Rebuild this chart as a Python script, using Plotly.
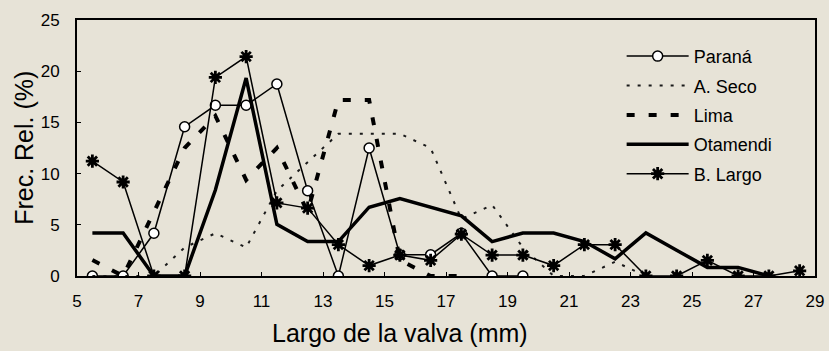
import plotly.graph_objects as go

# x positions (class midpoints, mm)
x_all = [5.5, 6.5, 7.5, 8.5, 9.5, 10.5, 11.5, 12.5, 13.5, 14.5, 15.5, 16.5,
         17.5, 18.5, 19.5, 20.5, 21.5, 22.5, 23.5, 24.5, 25.5, 26.5, 27.5, 28.5]

parana = [0, 0, 4.17, 14.58, 16.67, 16.67, 18.75, 8.33, 0, 12.5, 2.08, 2.08,
          4.17, 0, 0]
a_seco = [0, 0, 0, 2.78, 4.17, 2.78, 8.33, 11.11, 13.89, 13.89, 13.89, 12.5,
          5.56, 6.94, 2.78, 0, 0, 1.39, 0]
lima = [1.56, 0, 6.25, 12.5, 15.63, 9.38, 12.5, 6.25, 17.19, 17.19, 1.56, 0, 0]
otamendi = [4.2, 4.2, 0, 0, 8.4, 19.33, 5.04, 3.36, 3.36, 6.72, 7.56, 6.72,
            5.88, 3.36, 4.2, 4.2, 3.36, 1.68, 4.2, 2.52, 0.84, 0.84, 0]
b_largo = [11.22, 9.18, 0, 0, 19.39, 21.43, 7.14, 6.63, 3.06, 1.02, 2.04, 1.53,
           4.08, 2.04, 2.04, 1.02, 3.06, 3.06, 0, 0, 1.53, 0, 0, 0.51]

x_ticks = [5, 7, 9, 11, 13, 15, 17, 19, 21, 23, 25, 27, 29]
y_ticks = [0, 5, 10, 15, 20, 25]

BG = "#e7e3d7"
FONT = "Liberation Sans, Arial, sans-serif"

fig = go.Figure()
fig.add_trace(go.Scatter(
    x=x_all[:len(parana)], y=parana, name="Paraná", legendgroup="a",
    mode="lines+markers", line=dict(color="black", width=1.5),
    marker=dict(symbol="circle", size=10, color="white",
                line=dict(color="black", width=1.5))))
fig.add_trace(go.Scatter(
    x=x_all[:len(a_seco)], y=a_seco, name="A. Seco", legendgroup="b",
    mode="lines", line=dict(color="#1a1a1a", width=2, dash="3px,8px")))
fig.add_trace(go.Scatter(
    x=x_all[:len(lima)], y=lima, name="Lima", legendgroup="c",
    mode="lines", line=dict(color="black", width=4, dash="8px,14px")))
fig.add_trace(go.Scatter(
    x=x_all[:len(otamendi)], y=otamendi, name="Otamendi", legendgroup="d",
    mode="lines", line=dict(color="black", width=3.5)))
fig.add_trace(go.Scatter(
    x=x_all[:len(b_largo)], y=b_largo, name="B. Largo", legendgroup="e",
    mode="lines+markers", line=dict(color="black", width=1.5),
    marker=dict(symbol="asterisk-open", size=11,
                line=dict(color="black", width=2.8))))

fig.update_layout(
    width=829, height=351,
    margin=dict(l=77, r=14, t=20, b=75, autoexpand=False),
    paper_bgcolor=BG, plot_bgcolor=BG,
    font=dict(family=FONT, color="black"),
    showlegend=True,
    legend=dict(x=0.738, y=0.93, xanchor="left", yanchor="top",
                bgcolor="rgba(0,0,0,0)", font=dict(size=18, family=FONT),
                itemwidth=62, tracegroupgap=3),
    xaxis=dict(range=[5, 29], tickvals=x_ticks, ticks="inside", ticklen=4,
               tickcolor="black", showline=True, linecolor="black",
               linewidth=2, mirror=True, showgrid=False, zeroline=False,
               automargin=False,
               tickfont=dict(size=17), ticklabelstandoff=9),
    yaxis=dict(range=[0, 25], tickvals=y_ticks, ticks="inside", ticklen=4,
               tickcolor="black", showline=True, linecolor="black",
               linewidth=2, mirror=True, showgrid=False, zeroline=False,
               automargin=False,
               tickfont=dict(size=17), ticklabelstandoff=12),
)
fig.add_annotation(text="Frec. Rel. (%)", xref="paper", yref="paper",
                   x=-0.072, y=0.5, xanchor="center", yanchor="middle",
                   textangle=-90, showarrow=False,
                   font=dict(size=25, family=FONT))
fig.add_annotation(text="Largo de la valva (mm)", xref="paper", yref="paper",
                   x=0.438, y=-0.16, xanchor="center", yanchor="top",
                   showarrow=False, font=dict(size=25, family=FONT))

fig.write_html("out.html",
               config={"displayModeBar": False},
               post_script="document.body.style.margin='0';"
                           "document.body.style.overflow='hidden';")
